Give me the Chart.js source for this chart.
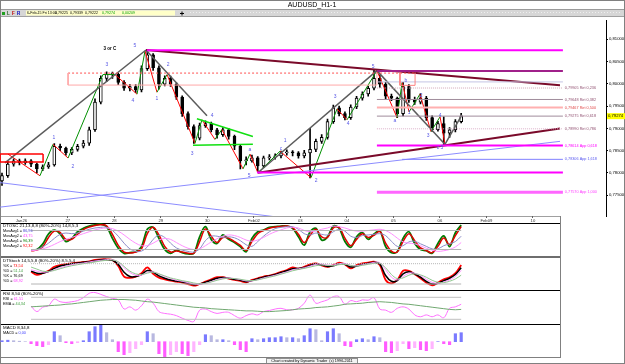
<!DOCTYPE html>
<html>
<head>
<meta charset="utf-8">
<title>AUDUSD_H1-1</title>
<script src="https://cdn.jsdelivr.net/npm/chart.js@4.4.1/dist/chart.umd.min.js"></script>
<style>
  body { margin: 0; background: #fff; }
  #page { position: relative; width: 625px; height: 364px; overflow: hidden; }
  #page canvas { position: absolute; left: 0; }
</style>
</head>
<body>
<div id="page">
  <canvas id="frame" width="625" height="364" style="top:0"></canvas>
  <canvas id="priceChart" width="625" height="206" style="top:17px"></canvas>
  <canvas id="oscChart" width="560" height="34" style="top:223px"></canvas>
  <canvas id="stochChart" width="560" height="32" style="top:258px"></canvas>
  <canvas id="rsiChart" width="560" height="33" style="top:291px"></canvas>
  <canvas id="macdChart" width="560" height="33" style="top:325px"></canvas>
</div>
<script>
const FONT = '"Liberation Sans", Arial, sans-serif';
Chart.defaults.font.family = FONT;

// ---- price bars, one every 3 hours ----
const firstOpen = 0.7782;
const closes = [
  0.7794, 0.7820, 0.7827, 0.7823, 0.7827, 0.7820, 0.7809, 0.7814, 0.7818, 0.7860,
  0.7856, 0.7845, 0.7853, 0.7860, 0.7867, 0.7897, 0.7959, 0.8012, 0.8021, 0.8021,
  0.8003, 0.7990, 0.7994, 0.7986, 0.8034, 0.8065, 0.8036, 0.7999, 0.8012, 0.7999,
  0.7970, 0.7933, 0.7904, 0.7878, 0.7906, 0.7911, 0.7897, 0.7886, 0.7897, 0.7882,
  0.7860, 0.7827, 0.7827, 0.7834, 0.7816, 0.7834, 0.7836, 0.7838, 0.7845, 0.7847,
  0.7845, 0.7838, 0.7845, 0.7853, 0.7871, 0.7880, 0.7915, 0.7946, 0.7933, 0.7924,
  0.7948, 0.7968, 0.7977, 0.7990, 0.8012, 0.7999, 0.7972, 0.7968, 0.7933, 0.7994,
  0.7963, 0.7959, 0.7968, 0.7924, 0.7897, 0.7911, 0.7889, 0.7897, 0.7915, 0.79274,
];
const highs = [
  0.7800, 0.7826, 0.7832, 0.7831, 0.7832, 0.7830, 0.7822, 0.7818, 0.7824, 0.7866,
  0.7865, 0.7858, 0.7857, 0.7864, 0.7873, 0.7903, 0.7966, 0.8018, 0.8027, 0.8026,
  0.8024, 0.8007, 0.7999, 0.7998, 0.8040, 0.8076, 0.8068, 0.8040, 0.8018, 0.8017,
  0.8002, 0.7973, 0.7937, 0.7908, 0.7912, 0.7917, 0.7914, 0.7900, 0.7902, 0.7900,
  0.7885, 0.7863, 0.7836, 0.7840, 0.7837, 0.7838, 0.7841, 0.7843, 0.7849, 0.7852,
  0.7850, 0.7848, 0.7851, 0.7900, 0.7876, 0.7886, 0.7921, 0.7952, 0.7950, 0.7937,
  0.7953, 0.7972, 0.7982, 0.7995, 0.8030, 0.8020, 0.8003, 0.7977, 0.7970, 0.8003,
  0.7998, 0.7970, 0.7978, 0.7972, 0.7928, 0.7916, 0.7926, 0.7902, 0.7920, 0.7934,
];
const lows = [
  0.7772, 0.7790, 0.7815, 0.7818, 0.7819, 0.7814, 0.7800, 0.7805, 0.7810, 0.7815,
  0.7850, 0.7840, 0.7841, 0.7849, 0.7856, 0.7862, 0.7893, 0.7955, 0.8005, 0.8012,
  0.7998, 0.7985, 0.7984, 0.7980, 0.7982, 0.8030, 0.8030, 0.7988, 0.7995, 0.7994,
  0.7965, 0.7927, 0.7898, 0.7866, 0.7874, 0.7902, 0.7892, 0.7878, 0.7882, 0.7876,
  0.7852, 0.7809, 0.7818, 0.7824, 0.7803, 0.7812, 0.7829, 0.7831, 0.7834, 0.7840,
  0.7838, 0.7833, 0.7834, 0.7789, 0.7848, 0.7866, 0.7876, 0.7911, 0.7928, 0.7919,
  0.7920, 0.7944, 0.7963, 0.7972, 0.7986, 0.7992, 0.7966, 0.7962, 0.7924, 0.7928,
  0.7958, 0.7954, 0.7955, 0.7918, 0.7893, 0.7894, 0.7864, 0.7880, 0.7892, 0.7912,
];

// day labels on the time axis, hours from the first bar
const dayTicks = [10, 34, 58, 82, 106, 130, 154, 178, 202, 226, 250, 274];
const dayLabels = ['Jan26', '27', '28', '29', '30', 'Feb02', '03', '04', '05', '06', 'Feb09', '10'];

// ---- indicators (same bar grid) ----
const oscFast = [
  null, null, null, null, null, 18, 20, 37, 69, 81,
  69, 45, 55, 76, 87, 94, 98, 100, 92, 55,
  24, 8, 10, 13, 29, 84, 90, 55, 20, 8,
  18, 10, 6, 8, 60, 92, 52, 39, 66, 52,
  42, 29, 13, 55, 76, 81, 90, 92, 94, 94,
  87, 60, 34, 76, 87, 50, 60, 94, 87, 45,
  27, 60, 73, 52, 69, 79, 29, 10, 13, 55,
  76, 39, 20, 16, 8, 39, 63, 29, 73, 97,
];
const oscFastAvg = [
  null, null, null, null, null, 16, 18, 28, 58, 78,
  74, 52, 52, 68, 83, 91, 96, 98, 95, 68,
  33, 12, 9, 12, 22, 70, 90, 66, 30, 12,
  15, 12, 8, 8, 45, 85, 62, 42, 58, 56,
  45, 33, 17, 45, 70, 80, 87, 91, 93, 94,
  89, 68, 42, 65, 84, 60, 58, 88, 90, 56,
  32, 52, 70, 58, 65, 77, 40, 15, 12, 45,
  70, 48, 25, 17, 10, 30, 56, 36, 64, 92,
];
const oscSlow = [
  null, null, null, null, null, 18, 20, 28, 40, 55,
  68, 72, 70, 72, 78, 84, 88, 90, 90, 80,
  62, 40, 22, 14, 15, 28, 52, 65, 58, 40,
  25, 18, 14, 12, 22, 48, 62, 62, 58, 60,
  57, 48, 35, 30, 45, 62, 76, 86, 90, 92,
  92, 84, 70, 66, 72, 68, 66, 76, 84, 78,
  62, 58, 64, 66, 68, 70, 64, 46, 30, 32,
  44, 46, 38, 30, 22, 22, 32, 38, 45, 62,
];
const oscSlowAvg = [
  null, null, null, null, null, 16, 18, 22, 28, 36,
  45, 52, 58, 64, 70, 76, 82, 86, 88, 86,
  78, 66, 52, 40, 32, 32, 40, 50, 55, 52,
  42, 32, 24, 20, 22, 32, 44, 54, 62, 66,
  64, 58, 50, 46, 50, 58, 68, 76, 82, 88,
  90, 88, 80, 76, 78, 84, 88, 94, 92, 88,
  82, 78, 78, 80, 82, 84, 80, 70, 56, 44,
  40, 38, 32, 24, 18, 14, 16, 20, 28, 42,
];
const stochK = [
  null, null, null, null, null, 56, 47, 52, 59, 71,
  76, 79, 81, 83, 85, 87, 91, 93, 93, 91,
  73, 42, 38, 42, 52, 69, 50, 39, 34, 30,
  27, 24, 20, 15, 20, 27, 34, 40, 40, 36,
  32, 29, 25, 32, 37, 42, 45, 49, 56, 61,
  69, 65, 71, 78, 81, 75, 71, 76, 83, 78,
  66, 76, 81, 83, 86, 76, 32, 22, 32, 59,
  59, 49, 37, 24, 16, 24, 34, 40, 52, 76,
];
const stochKSlow = [
  null, null, null, null, null, 58, 52, 52, 57, 66,
  73, 77, 80, 82, 84, 86, 89, 91, 92, 90,
  78, 55, 42, 42, 48, 60, 55, 44, 37, 32,
  29, 26, 22, 18, 20, 25, 31, 37, 39, 37,
  34, 31, 27, 30, 35, 40, 44, 48, 54, 59,
  65, 66, 69, 75, 79, 76, 72, 74, 80, 78,
  70, 73, 78, 81, 84, 79, 45, 28, 30, 50,
  56, 50, 40, 28, 20, 22, 30, 37, 48, 68,
];
const stochD = [
  null, null, null, null, null, 70, 64, 58, 57, 60,
  65, 70, 74, 77, 80, 82, 85, 88, 90, 91,
  86, 72, 58, 50, 48, 52, 55, 50, 44, 38,
  34, 30, 27, 23, 21, 22, 26, 31, 35, 37,
  36, 34, 31, 30, 32, 36, 40, 44, 49, 54,
  59, 63, 66, 70, 74, 76, 75, 74, 77, 78,
  75, 73, 75, 78, 81, 81, 68, 48, 36, 38,
  46, 50, 47, 40, 31, 25, 24, 28, 35, 46,
];
const stochDSlow = [
  null, null, null, null, null, 62, 58, 55, 56, 62,
  68, 73, 77, 80, 82, 85, 88, 90, 92, 92,
  85, 68, 54, 46, 46, 54, 56, 50, 42, 36,
  31, 28, 24, 20, 19, 22, 27, 33, 37, 38,
  36, 33, 29, 29, 33, 38, 42, 46, 51, 56,
  62, 65, 68, 73, 78, 79, 76, 76, 80, 81,
  75, 74, 77, 80, 84, 83, 62, 40, 32, 42,
  52, 52, 45, 34, 25, 22, 26, 32, 42, 60,
];
const rsi = [
  null, null, null, null, null, 56, 41, 53, 57, 75,
  68, 66, 68, 71, 79, 91, 93, 88, 82, 77,
  73, 48, 54, 45, 57, 75, 64, 41, 36, 34,
  30, 23, 17, 14, 45, 48, 41, 36, 39, 39,
  30, 23, 30, 35, 32, 41, 44, 48, 50, 46,
  46, 50, 64, 86, 64, 68, 73, 82, 82, 61,
  71, 68, 73, 72, 79, 48, 45, 39, 50, 54,
  48, 32, 27, 32, 27, 32, 24, 50, 54, 61,
];
const rsiEma = [
  null, null, null, null, null, 54, 55, 56, 57, 58,
  59, 61, 62, 64, 66, 68, 70, 72, 73, 74,
  74, 74, 73, 72, 70, 68, 67, 65, 63, 61,
  59, 57, 55, 53, 52, 51, 49, 48, 47, 46,
  45, 44, 43, 43, 42, 41, 41, 42, 43, 44,
  46, 48, 49, 50, 52, 53, 54, 56, 58, 61,
  62, 63, 64, 66, 67, 68, 67, 66, 64, 62,
  61, 59, 57, 55, 53, 51, 49, 47, 46, 47,
];
// MACD histogram, units of 0.0001
const macdHist = [
  1, 1.5, 1, 0.5, 0, -2, -4, -5, -3, 10,
  6, -1, -2, -1, 1, 10, 15, 17, 9, 2,
  -10, -13, -11, -7, -3, 10, 8, -12, -15, -13,
  -10, -12, -14, -10, -3, 7, 6, 2, 2, 1,
  -3, -8, -10, 3, 2, 3, 4, 4, 5, 4,
  4, 3, 6, 13, 12, 1, 10, 13, 8, -4,
  -5, 2, 3, 2, 5, 4, -10, -11, -9, -2,
  -7, -6, -8, -9, -7, 0, -2, -3, 8, 9,
];

// ---- drawings on the price panel: [startHour, startPrice, endHour, endPrice] ----
const grayLines = [
  [1.5, 0.78225, 74.3, 0.80758],
  [74.3, 0.80758, 105.8, 0.79282],
  [132.1, 0.78004, 193.5, 0.80295],
  [193.5, 0.80295, 228.6, 0.78643],
  [228.6, 0.78643, 237.4, 0.79304],
];
const maroonLines = [
  [74.3, 0.80758, 288, 0.79965],
  [132.1, 0.78004, 288, 0.78996],
];
const blueLines = [
  [-1, 0.77784, 146, 0.76991],
  [-1, 0.77234, 288, 0.78709],
];
const greenLines = [
  [100.6, 0.79216, 129.5, 0.78819],
  [98.6, 0.78621, 129.5, 0.78643],
];
// wave pivots (zigzag)
const pivotHours = [3.1, 19.6, 26.3, 34.1, 52.1, 58.3, 69.7, 73.8, 80.0, 85.2, 99.6, 103.2, 109.9, 113.5,
  124.4, 128.0, 132.1, 143.5, 159.5, 172.9, 178.1, 193.5, 203.9, 206.5, 210.1, 215.7, 221.4, 226.1, 228.6];
const pivotPrices = [0.78423, 0.77938, 0.78643, 0.78335, 0.80207, 0.80207, 0.79767, 0.80736, 0.79811, 0.80207,
  0.78665, 0.79194, 0.78753, 0.78974, 0.78093, 0.78423, 0.78004, 0.78489, 0.77894, 0.79436, 0.79194,
  0.80295, 0.79238, 0.80031, 0.79370, 0.79767, 0.78930, 0.79260, 0.78643];
// wave counts
const waveText = ['1', '2', '3', '3 or C', '4', '5', '1', '2', '3', '4', 'a', '5', 'c', '1', '2', '3', '4', '5',
  'a', 'b', '1', '2', '3', '4', 'c 5'];
const waveHour = [26.8, 36.6, 54.2, 55.7, 67.6, 68.6, 80.0, 85.7, 98.1, 108.4, 128.0, 127.5, 144.0, 146.1,
  162.1, 171.9, 178.6, 191.5, 202.8, 208.5, 210.1, 216.3, 219.9, 226.1, 226.1];
const wavePrice = [0.78797, 0.78137, 0.80427, 0.80780, 0.79612, 0.80846, 0.79678, 0.80427, 0.78423, 0.79282,
  0.78533, 0.77938, 0.78555, 0.78731, 0.77828, 0.79722, 0.79106, 0.80383, 0.79172, 0.80075, 0.79348,
  0.79744, 0.78841, 0.79282, 0.78577];
// horizontal levels
const plainLevels = [0.80751, 0.80284, 0.80042, 0.78011];
const plainLevelStart = [74.8, 193.5, 193.5, 131.6];
const fibPrices = [0.79905, 0.79648, 0.79467, 0.79275, 0.78990, 0.78614, 0.78306, 0.77570];
const fibNames = ['Ret 0,236', 'Ret 0,382', 'Ret 0,500', 'Ret 0,618', 'Ret 0,786', 'App 0,618', 'App 1,618', 'App 1,000'];
const fibStart = [193.5, 193.5, 193.5, 193.5, 193.5, 193.5, 206.5, 193.5];
const LEVEL_END = 289.5;
// zones: [fromHour, toHour, topPrice, bottomPrice]
const zones = [
  [34.1, 193.5, 0.80240, 0.79971],
  [205.4, 213.2, 0.80251, 0.79965],
  [-1, 21.2, 0.78423, 0.78247],
];

// quote line in the toolbar
const quoteFields = ['6-Feb-15 Fri 13:00', '0,79225', '0,79339', '0,79222', '0,79274', '0,00209'];

// ---- scale ranges (hours / prices) ----
const X_MIN = -1.03;
const X_MAX_MAIN = 311.74;
const X_MAX_PANEL = 288.0;
const PRICE_MIN = 0.770353;
const PRICE_MAX = 0.814185;

const barHours = closes.map((_, i) => i * 3);
const opens = [firstOpen].concat(closes.slice(0, -1));
const fmt = (v) => v.toFixed(5).replace('.', ',');

function segLine(h1, p1, h2, p2, color, width, dash) {
  return {
    type: 'line',
    data: [{ x: h1, y: p1 }, { x: h2, y: p2 }],
    borderColor: color,
    borderWidth: width,
    borderDash: dash || [],
    pointRadius: 0,
    tension: 0,
    order: 0,
  };
}

function series(values, color, width) {
  return {
    type: 'line',
    data: barHours.map((h, i) => ({ x: h, y: values[i] })),
    borderColor: color,
    borderWidth: width,
    pointRadius: 0,
    tension: 0.35,
  };
}

// ---- background: window frame, toolbar, panel borders ----
function drawFrame() {
  const c = document.getElementById('frame').getContext('2d');
  c.fillStyle = '#fff';
  c.fillRect(0, 0, 625, 364);
  c.textBaseline = 'middle';

  c.fillStyle = '#000';
  c.font = '7px ' + FONT;
  c.textAlign = 'center';
  c.fillText('AUDUSD_H1-1', 312, 5);
  c.fillStyle = '#9a9a9a';
  c.fillRect(0, 9, 625, 1);

  // toolbar
  c.fillStyle = '#d6d6d6';
  c.fillRect(0, 10, 625, 6);
  c.fillStyle = '#eeeeee';
  for (let x = 190; x < 622; x += 3) c.fillRect(x, 12, 1, 1);
  c.fillStyle = '#a0a0a0';
  c.fillRect(0, 16, 625, 1);
  c.fillStyle = '#20a020';
  c.fillRect(2, 12, 3, 3);
  c.textAlign = 'left';
  c.font = 'bold 4.5px ' + FONT;
  [['L', '#206020', 7], ['F', '#c00000', 12], ['R', '#0000c0', 17]].forEach(([t, col, x]) => {
    c.fillStyle = col;
    c.fillText(t, x, 13.5);
  });
  c.fillStyle = '#ffffc8';
  c.fillRect(26, 10.5, 149, 5);
  c.font = '3.6px ' + FONT;
  const qx = [27, 55, 70, 85, 102, 122];
  quoteFields.forEach((t, i) => {
    c.fillStyle = i >= 4 ? '#00a000' : '#000';
    c.fillText(t, qx[i], 13.2);
  });
  c.fillStyle = '#000';
  c.fillRect(180, 13, 4, 1);
  c.fillRect(181.5, 11.5, 1, 4);

  // date strip + indicator panel borders
  c.fillStyle = '#a0a0a0';
  c.fillRect(0, 216, 560, 1);
  c.fillStyle = '#000';
  c.fillRect(0, 223, 560, 1);
  c.fillStyle = '#6e6e6e';
  c.fillRect(0, 256, 560, 2);
  c.fillStyle = '#000';
  c.fillRect(0, 290, 560, 1);
  c.fillRect(0, 324, 560, 1);
  c.fillStyle = '#808080';
  c.fillRect(0, 357, 560, 1);
  c.fillRect(560, 216, 1, 142);

  // footer
  c.fillStyle = '#f2f2f2';
  c.fillRect(266, 358, 92, 5);
  c.strokeStyle = '#909090';
  c.lineWidth = 1;
  c.strokeRect(266.5, 358.5, 91, 5);
  c.fillStyle = '#000';
  c.textAlign = 'center';
  c.font = '3.8px ' + FONT;
  c.fillText('Chart created by Dynamic Trader  (c) 1996-2011', 312, 361.2);

  c.strokeStyle = '#808080';
  c.strokeRect(0.5, 0.5, 624, 363);
}
drawFrame();

// ---- price panel ----
const priceDatasets = [
  {
    type: 'bar',
    data: barHours.map((h, i) => ({ x: h, y: [lows[i], highs[i]] })),
    backgroundColor: '#000',
    barThickness: 1,
    grouped: false,
    order: 2,
  },
  {
    type: 'bar',
    data: barHours.map((h, i) => ({ x: h, y: [opens[i], closes[i]] })),
    backgroundColor: (ctx) => (closes[ctx.dataIndex] >= opens[ctx.dataIndex] ? '#fff' : '#000'),
    borderColor: '#000',
    borderWidth: 1,
    borderSkipped: false,
    barThickness: 3,
    minBarLength: 1,
    grouped: false,
    order: 1,
  },
];

zones.forEach(([h1, h2, top, bottom], i) => {
  const color = ['#ffa8a8', '#ff8080', '#ff0000'][i];
  priceDatasets.push({
    type: 'line',
    data: [{ x: h1, y: top }, { x: h1, y: bottom }, { x: h2, y: bottom }, { x: h2, y: top }],
    borderColor: color,
    borderWidth: i === 2 ? 1.5 : 1,
    pointRadius: 0,
    tension: 0,
    order: 0,
  });
});
priceDatasets.push(segLine(zones[0][0], zones[0][2], zones[1][1], zones[0][2], '#ff5050', 1, [2, 2]));
priceDatasets.push(segLine(zones[2][0], zones[2][2], zones[2][1], zones[2][2], '#ff0000', 1.5));

plainLevels.forEach((p, i) => {
  const style = [['#ff00ff', 2], ['#a0208a', 2], ['#c4c4e4', 1], ['#ff00ff', 2]][i];
  priceDatasets.push(segLine(plainLevelStart[i], p, LEVEL_END, p, style[0], style[1]));
});
const fibStyles = [
  ['#d4a8b8', 1, [1, 1]], ['#a08c9c', 1], ['#ffb0b0', 2], ['#a08c9c', 1],
  ['#dcb0c8', 1, [1, 1]], ['#ff00ff', 2], ['#8080ff', 1], ['#ff66ff', 3],
];
const fibLabelColors = ['#905070', '#905070', '#e04848', '#905070', '#905070', '#ff00ff', '#5a5af0', '#ff40ff'];
fibPrices.forEach((p, i) => {
  const s = fibStyles[i];
  priceDatasets.push(segLine(fibStart[i], p, LEVEL_END, p, s[0], s[1], s[2]));
});

blueLines.forEach((l) => priceDatasets.push(segLine(...l, '#8c8cff', 1)));
maroonLines.forEach((l) => priceDatasets.push(segLine(...l, '#7a0a2a', 2)));
greenLines.forEach((l) => priceDatasets.push(segLine(...l, '#10e010', 1.5)));
grayLines.forEach((l) => priceDatasets.push(segLine(...l, '#5c5c5c', 1.5)));

priceDatasets.push({
  type: 'line',
  data: pivotHours.map((h, i) => ({ x: h, y: pivotPrices[i] })),
  borderColor: '#ff0000',
  borderWidth: 1,
  pointRadius: 0,
  tension: 0,
  order: 0,
  segment: {
    borderColor: (c) => (c.p1.parsed.y < c.p0.parsed.y ? '#ff0000' : '#009000'),
  },
});

const priceText = {
  id: 'priceText',
  afterDatasetsDraw(chart) {
    const { ctx, scales: { x, y } } = chart;
    ctx.save();
    ctx.textBaseline = 'middle';
    ctx.textAlign = 'center';
    waveText.forEach((t, i) => {
      const strong = t === '3 or C';
      ctx.font = (strong ? 'bold 4.5px ' : '5px ') + FONT;
      ctx.fillStyle = strong ? '#000' : '#5a5ae6';
      ctx.fillText(t, x.getPixelForValue(waveHour[i]), y.getPixelForValue(wavePrice[i]));
    });
    ctx.textAlign = 'left';
    ctx.font = '3.8px ' + FONT;
    fibPrices.forEach((p, i) => {
      ctx.fillStyle = fibLabelColors[i];
      ctx.fillText(fmt(p) + ' ' + fibNames[i], x.getPixelForValue(LEVEL_END + 1), y.getPixelForValue(p));
    });
    ctx.restore();
  },
  afterDraw(chart) {
    const { ctx, chartArea, scales: { y } } = chart;
    const last = closes[closes.length - 1];
    const yy = y.getPixelForValue(last);
    ctx.save();
    ctx.fillStyle = '#ffff00';
    ctx.fillRect(chartArea.right + 1, yy - 3, 18, 6);
    ctx.fillStyle = '#000';
    ctx.font = '4.2px ' + FONT;
    ctx.textBaseline = 'middle';
    ctx.fillText(fmt(last), chartArea.right + 2, yy);
    ctx.restore();
  },
};

new Chart(document.getElementById('priceChart'), {
  type: 'bar',
  data: { datasets: priceDatasets },
  options: {
    responsive: false,
    animation: false,
    events: [],
    layout: { padding: 0 },
    plugins: { legend: { display: false }, tooltip: { enabled: false } },
    scales: {
      x: {
        type: 'linear',
        offset: false,
        min: X_MIN,
        max: X_MAX_MAIN,
        border: { display: false },
        grid: { offset: false, drawOnChartArea: false, tickLength: 2, color: '#606060' },
        ticks: {
          font: { size: 4.2 },
          color: '#333',
          padding: 0,
          maxRotation: 0,
          autoSkip: false,
          callback: (v, i) => dayLabels[i],
        },
        afterBuildTicks: (s) => { s.ticks = dayTicks.map((v) => ({ value: v })); },
        afterFit: (s) => { s.height = 7; },
      },
      y: {
        position: 'right',
        min: PRICE_MIN,
        max: PRICE_MAX,
        border: { color: '#000' },
        grid: { drawOnChartArea: false, tickLength: 2, color: '#000' },
        ticks: {
          stepSize: 0.005,
          includeBounds: false,
          font: { size: 4.2 },
          color: '#000',
          padding: 1,
          callback: (v) => fmt(v),
        },
        afterFit: (s) => { s.width = 19; },
      },
    },
  },
  plugins: [priceText],
});

// ---- indicator panels ----
function legendText(lines) {
  return {
    id: 'legendText',
    afterDraw(chart) {
      const ctx = chart.ctx;
      ctx.save();
      ctx.textBaseline = 'middle';
      lines.forEach(([label, value, color], i) => {
        const yy = 2.8 + i * 5;
        ctx.font = (i === 0 ? '4.4px ' : '3.8px ') + FONT;
        ctx.fillStyle = '#000';
        ctx.fillText(label, 3, yy);
        if (value) {
          const w = ctx.measureText(label).width;
          ctx.fillStyle = color;
          ctx.fillText(value, 3 + w, yy);
        }
      });
      ctx.restore();
    },
  };
}

function panel(id, yMin, yMax, datasets, lines) {
  return new Chart(document.getElementById(id), {
    type: 'line',
    data: { datasets },
    options: {
      responsive: false,
      animation: false,
      events: [],
      layout: { padding: 0 },
      plugins: { legend: { display: false }, tooltip: { enabled: false } },
      scales: {
        x: { type: 'linear', offset: false, display: false, min: X_MIN, max: X_MAX_PANEL },
        y: { display: false, min: yMin, max: yMax },
      },
    },
    plugins: [legendText(lines)],
  });
}

const REF_FROM = barHours[5];
const REF_TO = barHours[barHours.length - 1];
const refLine = (v, color, dash) => ({
  type: 'line',
  data: [{ x: REF_FROM, y: v }, { x: REF_TO, y: v }],
  borderColor: color,
  borderWidth: 1,
  borderDash: dash || [],
  pointRadius: 0,
});

panel('oscChart', -3.7, 103.7, [
  refLine(80, '#b4b4b4'), refLine(20, '#b4b4b4'),
  series(oscSlowAvg, '#ff90ff', 1),
  series(oscSlow, '#8c8cc8', 1),
  series(oscFastAvg, '#e00000', 1.5),
  series(oscFast, '#007a00', 1.8),
], [
  ['DTOSC 21,13,8,8 (80%-20%) 14,8,5,3'],
  ['MovAvg1 = ', '86,96', '#4040d0'],
  ['MovAvg2 = ', '43,75', '#ff40ff'],
  ['MovAvg1 = ', '96,39', '#008000'],
  ['MovAvg2 = ', '92,32', '#ff0000'],
]);

panel('stochChart', 2.3, 96.8, [
  refLine(80, '#b4b4b4', [1, 1]), refLine(20, '#b4b4b4'),
  series(stochD, '#90c890', 1),
  series(stochDSlow, '#ff90ff', 1),
  series(stochKSlow, '#000', 1.5),
  series(stochK, '#ff0000', 1.8),
], [
  ['DTStoch 14,5,5,8 (80%-20%) 8,5,5,4'],
  ['%K = ', '73,54', '#ff0000'],
  ['%D = ', '51,14', '#40a040'],
  ['%K = ', '76,69', '#000'],
  ['%D = ', '68,92', '#ff40ff'],
]);

panel('rsiChart', 7.2, 97.2, [
  refLine(80, '#c0c0c0'), refLine(20, '#c0c0c0'),
  series(rsiEma, '#70a870', 1),
  series(rsi, '#ff70ff', 1),
], [
  ['RSI 8,50 (80%-20%)'],
  ['RSI = ', '61,51', '#ff40ff'],
  ['EMA = ', '44,34', '#40a040'],
]);

function macdColor(i) {
  const v = macdHist[i];
  const prev = i > 0 ? macdHist[i - 1] : 0;
  if (v >= 0) return v >= prev ? '#7a7aff' : '#b8b8e0';
  return v <= prev ? '#ff5cff' : '#ffb4ff';
}

panel('macdChart', -16.3, 16.7, [
  {
    type: 'bar',
    data: barHours.map((h, i) => ({ x: h, y: macdHist[i] })),
    backgroundColor: (ctx) => macdColor(ctx.dataIndex),
    barThickness: 2.5,
  },
], [
  ['MACD 8,34,8'],
  ['MACD = ', '0,00', '#4040ff'],
]);
</script>
</body>
</html>
